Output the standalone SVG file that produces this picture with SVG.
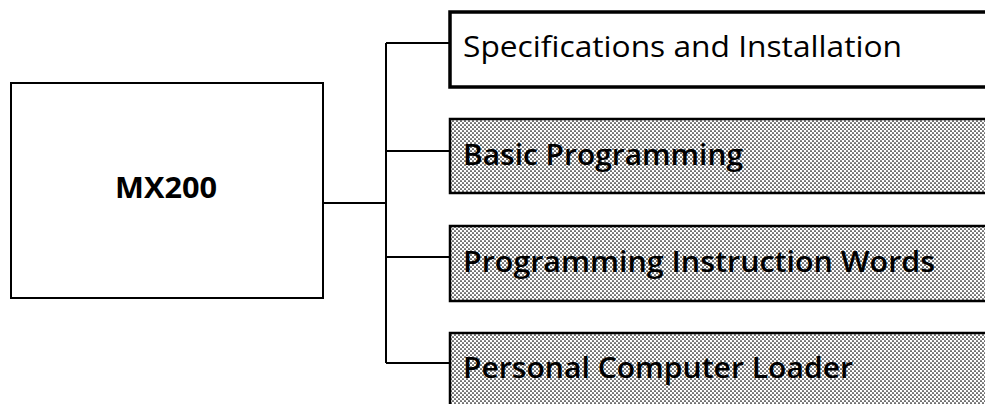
<svg xmlns="http://www.w3.org/2000/svg" width="985" height="404" viewBox="0 0 985 404">
  <defs>
    <pattern id="dots" width="4" height="4" patternUnits="userSpaceOnUse">
      <rect width="4" height="4" fill="#ffffff"/>
      <circle cx="1" cy="1" r="0.85" fill="#000"/>
      <circle cx="3" cy="3" r="0.85" fill="#000"/>
    </pattern>
  </defs>
  <style>
    .conn { fill: none; stroke: #000; stroke-width: 2; }
    .main { fill: #fff; stroke: #000; stroke-width: 2; }
    .plain { fill: #fff; stroke: #000; stroke-width: 3.5; }
    .shade { fill: url(#dots); stroke: #000; stroke-width: 2.5; }
    .lbl { font-family: "Open Sans", "Noto Sans", "Liberation Sans", sans-serif; font-size: 29px; fill: #000; }
    .sh { font-weight: 600; }
    .title { font-family: "Open Sans", "Noto Sans", "Liberation Sans", sans-serif; font-size: 28px; font-weight: bold; fill: #000; }
  </style>
  <rect width="985" height="404" fill="#fff"/>
  <g id="connectors">
    <path class="conn" d="M323,203 H386 M386,43 V363 M386,43 H450 M386,151 H450 M386,257 H450 M386,363 H450"/>
  </g>
  <g id="mx200">
    <rect class="main" x="11" y="83" width="312" height="215"/>
    <text class="title" x="166" y="198" text-anchor="middle" textLength="102" lengthAdjust="spacingAndGlyphs">MX200</text>
  </g>
  <g id="specs">
    <rect class="plain" x="450" y="12" width="560" height="75"/>
    <text class="lbl" x="463" y="57" textLength="439" lengthAdjust="spacingAndGlyphs">Specifications and Installation</text>
  </g>
  <g id="basic">
    <rect class="shade" x="450" y="119" width="560" height="74"/>
    <text class="lbl sh" x="463" y="165" textLength="280" lengthAdjust="spacingAndGlyphs">Basic Programming</text>
  </g>
  <g id="instr">
    <rect class="shade" x="450" y="226" width="560" height="75"/>
    <text class="lbl sh" x="463" y="272" textLength="472" lengthAdjust="spacingAndGlyphs">Programming Instruction Words</text>
  </g>
  <g id="loader">
    <rect class="shade" x="450" y="333" width="560" height="100"/>
    <text class="lbl sh" x="463" y="378" textLength="390" lengthAdjust="spacingAndGlyphs">Personal Computer Loader</text>
  </g>
</svg>
